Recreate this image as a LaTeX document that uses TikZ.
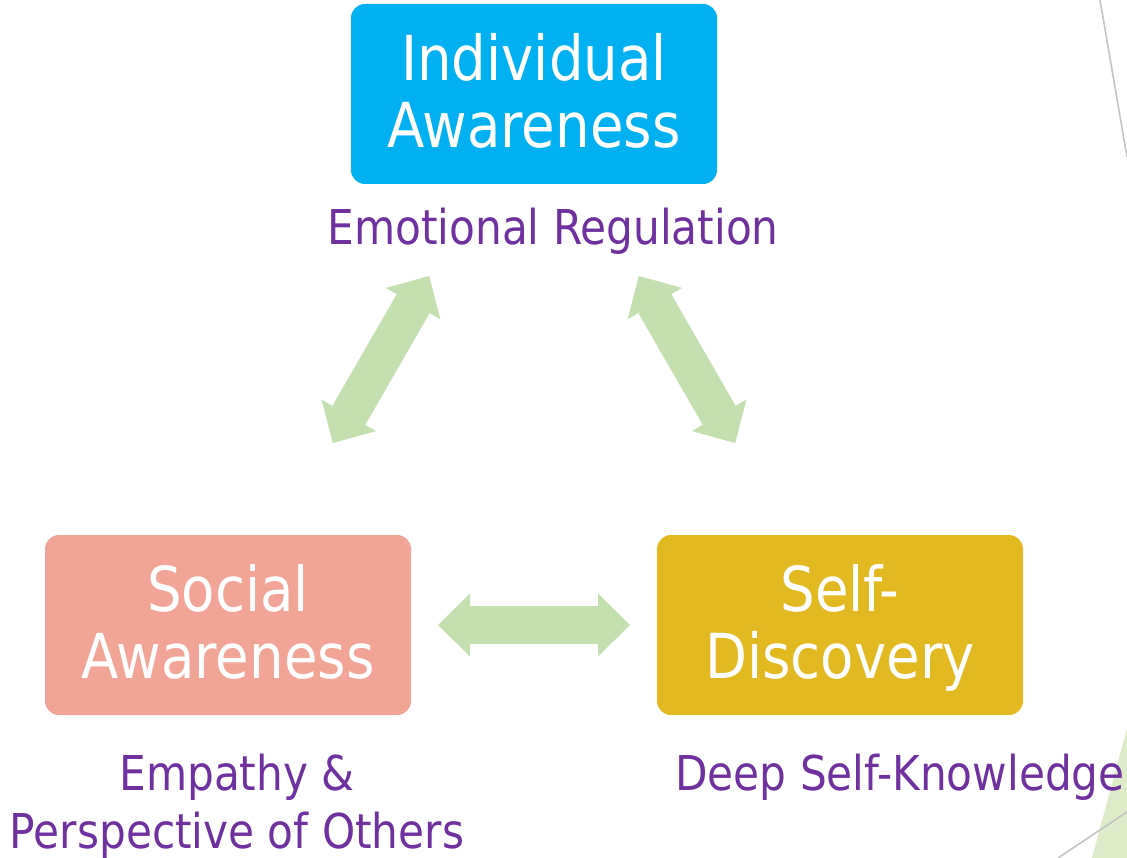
\documentclass[tikz,border=0pt]{standalone}
\usepackage{fontspec}
\setmainfont[FakeStretch=0.88]{DejaVu Sans}
\usetikzlibrary{arrows.meta}

\definecolor{indblue}{HTML}{00B0F0}
\definecolor{socpink}{HTML}{F2A496}
\definecolor{selfgold}{HTML}{E3B922}
\definecolor{notepurple}{HTML}{7030A0}
\definecolor{linkgreen}{HTML}{C5E0B0}
\definecolor{decogreen}{HTML}{DEEBC8}
\definecolor{decogray}{HTML}{C4C4C4}

\begin{document}
\begin{tikzpicture}[
    x=1pt, y=-1pt,
    >={Triangle[width=63pt,length=32pt,line width=0pt]},
    box/.style={rectangle, rounded corners=14pt, minimum width=366pt, minimum height=180pt,
        text=white, align=center, font=\fontsize{62}{67}\selectfont,
        text height=107pt, text depth=0pt},
    note/.style={text=notepurple, align=center, font=\fontsize{48}{58}\selectfont, anchor=base},
    link/.style={<->, draw=linkgreen, line width=38pt, shorten <=210pt, shorten >=210pt}
]
\useasboundingbox (0,0) rectangle (1127,858);

% slide corner decoration
\fill[decogreen] (1092,858) -- (1127,728) -- (1127,858) -- cycle;
\draw[decogray, line width=1.6pt] (1058,858) -- (1127,812);
\draw[decogray, line width=1.6pt] (1100,0) -- (1127,157);

\node[box, fill=indblue] (ind) at (534,94) {Individual\\Awareness};
\node[box, fill=socpink] (soc) at (228,625) {Social\\Awareness};
\node[box, fill=selfgold] (self) at (840,625) {Self-\\Discovery};

\node[note] (indnote) at (553,245) {Emotional Regulation};
\node[note] (socnote) at (237,848) {Empathy \&\\Perspective of Others};
\node[note] (selfnote) at (900,790) {Deep Self-Knowledge};

\draw[link] (soc.center) -- (ind.center);
\draw[link] (ind.center) -- (self.center);
\draw[link] (soc.center) -- (self.center);

\end{tikzpicture}
\end{document}
